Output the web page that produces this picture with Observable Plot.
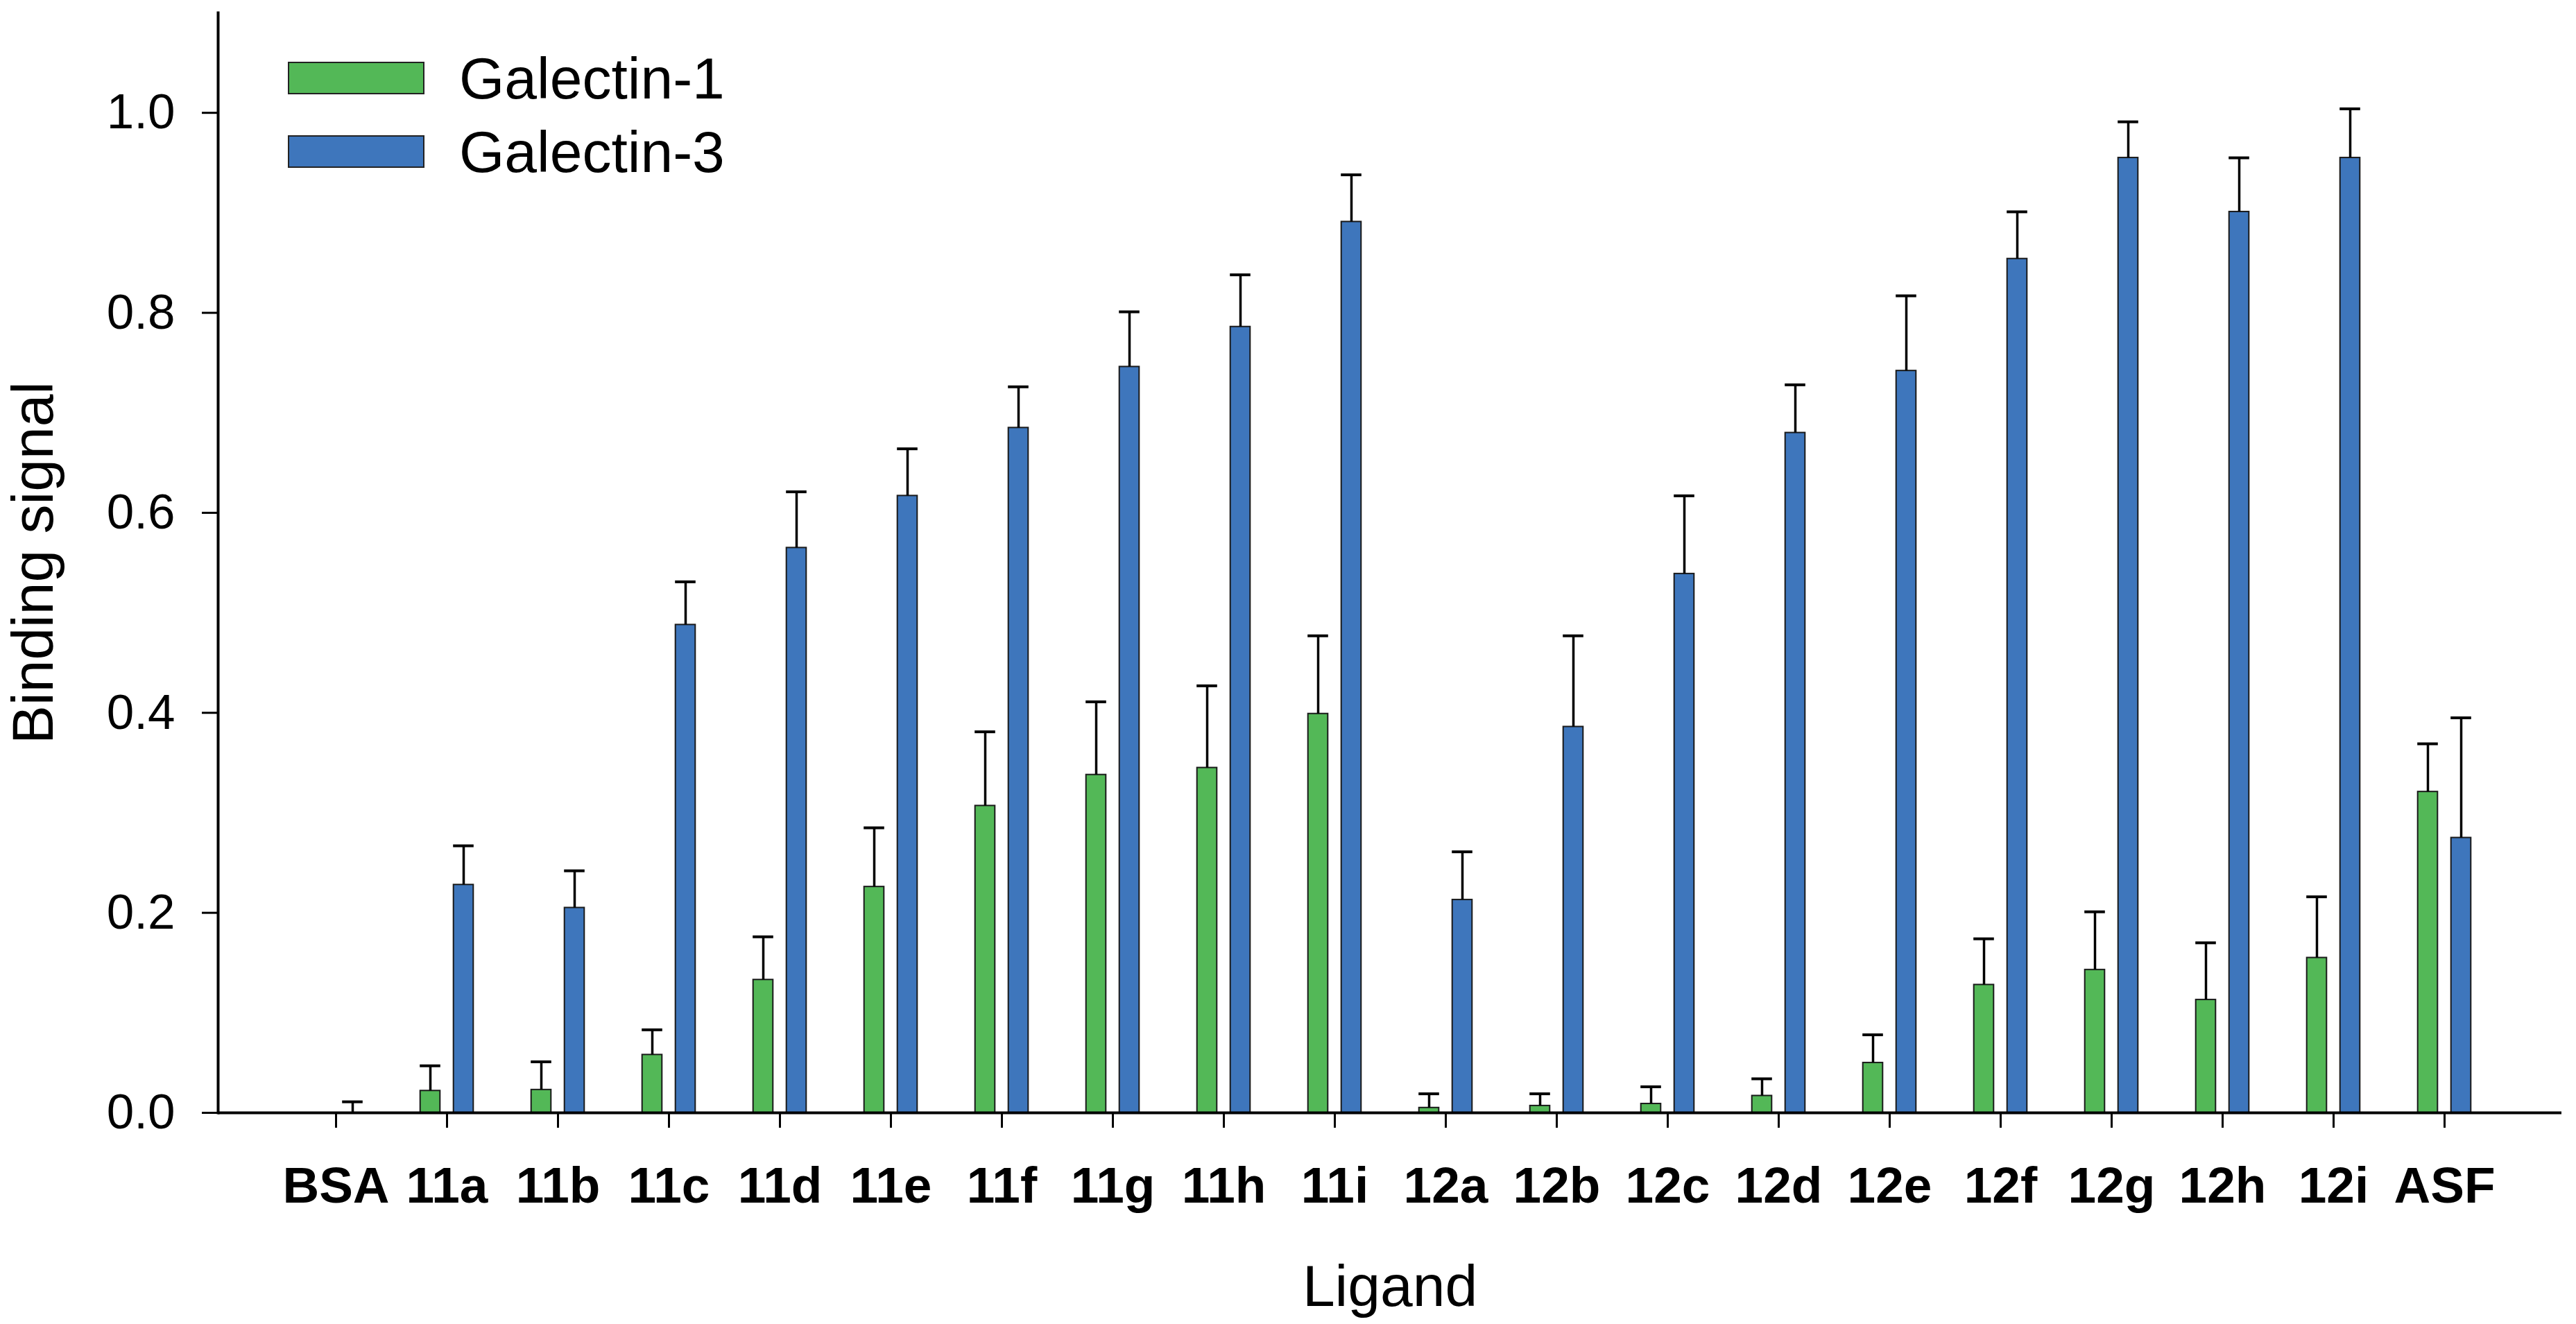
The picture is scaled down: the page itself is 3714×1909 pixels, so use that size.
<!DOCTYPE html>
<html><head><meta charset="utf-8">
<script src="https://cdn.jsdelivr.net/npm/d3@7"></script>
<script src="https://cdn.jsdelivr.net/npm/@observablehq/plot@0.6"></script>
<style>
body{margin:0;background:#fff;}
#wrap{position:relative;width:3714px;height:1909px;}
#legend{position:absolute;left:415px;top:89px;font-family:"Liberation Sans",Arial,sans-serif;font-size:84px;color:#000;}
.row{display:flex;align-items:center;height:47px;margin-bottom:59px;line-height:1;}
.sw{box-sizing:border-box;width:197px;height:47px;border:2px solid #222;margin-right:50px;}
</style></head><body><div id="wrap"></div>
<script>
const ligands = ["BSA","11a","11b","11c","11d","11e","11f","11g","11h","11i","12a","12b","12c","12d","12e","12f","12g","12h","12i","ASF"];
const series = ["Galectin-1","Galectin-3"];
const colors = ["#53b857","#3e76bc"];
const gal1 = [0,0.022,0.023,0.058,0.133,0.226,0.307,0.338,0.345,0.399,0.005,0.007,0.009,0.017,0.050,0.128,0.143,0.113,0.155,0.321];
const gal1Err = [0,0.025,0.028,0.025,0.043,0.059,0.074,0.073,0.082,0.078,0.014,0.012,0.017,0.017,0.028,0.046,0.058,0.057,0.061,0.048];
const gal3 = [0,0.228,0.205,0.488,0.565,0.617,0.685,0.746,0.786,0.891,0.213,0.386,0.539,0.680,0.742,0.854,0.955,0.901,0.955,0.275];
const gal3Err = [0.011,0.039,0.037,0.043,0.056,0.047,0.041,0.055,0.052,0.047,0.048,0.091,0.078,0.048,0.075,0.047,0.036,0.054,0.049,0.120];
const yTicks = [0,0.2,0.4,0.6,0.8,1.0];

const values = [gal1, gal3];
const errors = [gal1Err, gal3Err];
const offsets = [-24, 24];

const rows = series.flatMap((s, si) => ligands.map((l, i) => ({
  ligand: l, series: s, value: values[si][i], err: errors[si][i], top: values[si][i] + errors[si][i]
})));

const barInset = 65.7;
const capInset = 65.2;

const marks = [];
series.forEach((s, si) => {
  const d = rows.filter(r => r.series === s);
  marks.push(Plot.barY(d, {x: "ligand", y: "value", dx: offsets[si], insetLeft: barInset, insetRight: barInset,
    fill: colors[si], stroke: "#1a1a1a", strokeWidth: 2}));
});
series.forEach((s, si) => {
  const d = rows.filter(r => r.series === s && r.err > 0);
  marks.push(Plot.ruleX(d, {x: "ligand", y1: "value", y2: "top", dx: offsets[si], stroke: "#000", strokeWidth: 3.5}));
  marks.push(Plot.tickY(d, {x: "ligand", y: "top", dx: offsets[si], insetLeft: capInset, insetRight: capInset, stroke: "#000", strokeWidth: 4}));
});

const chart = Plot.plot({
  width: 3714, height: 1909,
  marginLeft: 314, marginRight: 21, marginTop: 18, marginBottom: 305,
  style: {fontFamily: "Liberation Sans, Arial, sans-serif", background: "#fff", color: "#000"},
  x: {type: "band", domain: ligands, paddingInner: 0, paddingOuter: 0.53},
  y: {domain: [0, 1.1]},
  marks: [
    ...marks,
    Plot.ruleY([0], {stroke: "#000", strokeWidth: 4}),
    Plot.frame({anchor: "left", stroke: "#000", strokeWidth: 4}),
    Plot.axisX({tickSize: 22, tickPadding: 56, fontSize: 73, fontWeight: "bold", strokeWidth: 3, label: null}),
    Plot.axisY({ticks: yTicks, tickFormat: d3.format(".1f"), tickSize: 23, tickPadding: 39, fontSize: 71, strokeWidth: 3, label: null}),
    Plot.text(["Ligand"], {frameAnchor: "bottom", dy: 252, fontSize: 84, textAnchor: "middle", lineAnchor: "middle"}),
    Plot.text(["Binding signal"], {frameAnchor: "left", rotate: -90, dx: -265, fontSize: 84, textAnchor: "middle", lineAnchor: "middle"})
  ]
});
const wrap = document.getElementById("wrap");
wrap.appendChild(chart);

const legend = document.createElement("div");
legend.id = "legend";
series.forEach((s, si) => {
  const row = document.createElement("div");
  row.className = "row";
  const sw = document.createElement("div");
  sw.className = "sw";
  sw.style.background = colors[si];
  const t = document.createElement("span");
  t.textContent = s;
  row.appendChild(sw); row.appendChild(t);
  legend.appendChild(row);
});
wrap.appendChild(legend);
</script></body></html>
